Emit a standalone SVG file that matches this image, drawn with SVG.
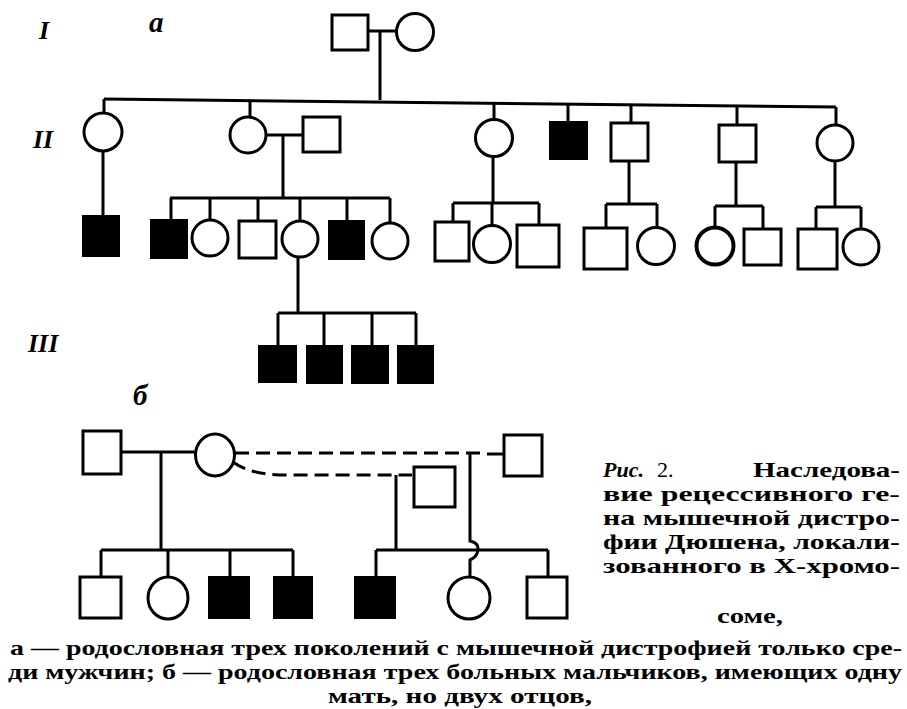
<svg xmlns="http://www.w3.org/2000/svg" width="907" height="709" viewBox="0 0 907 709">
<style>
.ln{stroke:#000;stroke-width:3;fill:none}
.dl{stroke:#000;stroke-width:3;fill:none;stroke-dasharray:14 7}
.s{fill:#fff;stroke:#000;stroke-width:3}
.a{fill:#000;stroke:#000;stroke-width:2}
.lab{font-family:"Liberation Serif",serif;font-style:italic;font-weight:bold;font-size:26px}
.t{font-family:"Liberation Serif",serif;font-weight:bold;font-size:21px}
.it{font-family:"Liberation Serif",serif;font-style:italic;font-weight:bold;font-size:22px}
.big{font-family:"Liberation Serif",serif;font-style:italic;font-weight:bold;font-size:29px}
.rg{font-family:"Liberation Serif",serif;font-size:22px}
</style>
<rect width="907" height="709" fill="#fff"/>
<g id="labels">
<text class="lab" x="39" y="39">I</text>
<text class="big" x="149" y="32">а</text>
<text class="lab" x="33" y="148">II</text>
<text class="lab" x="28" y="352">III</text>
<text class="big" x="133" y="405">б</text>
</g>
<g id="connectors">
<path class="ln" d="M368 31H396M380 31V100"/>
<path class="ln" d="M104 99L836 107"/>
<path class="ln" d="M104 99V113M250 100V117M494 104V120M568 105V122M631 105V123M737 106V125M836 107V125"/>
<path class="ln" d="M103 151V216"/>
<path class="ln" d="M266 135H303M283 135V198M170 198H390M171 198V220M210 198V220M258 198V221M300 198V221M347 198V221M390 198V223"/>
<path class="ln" d="M298 257V313M278 313H416M278 313V346M324 313V346M372 313V346M416 313V346"/>
<path class="ln" d="M493 157V203M453 203H539M453 203V222M492 203V226M539 203V225"/>
<path class="ln" d="M629 161V204M606 204H657M606 204V228M657 204V228"/>
<path class="ln" d="M736 162V206M715 206H763M715 206V228M763 206V229"/>
<path class="ln" d="M835 161V207M816 207H861M816 207V229M861 207V229"/>
<path class="ln" d="M121 452H196M161 452V550M101 550H293M101 550V577M168 550V577M230 550V577M293 550V577"/>
<path class="dl" d="M235 453H487"/>
<path class="ln" d="M487 454H504"/>
<path class="dl" d="M233 462Q250 475 286 475H412"/>
<path class="ln" d="M396 475V550M376 550H548M376 550V577M548 550V577"/>
<path class="ln" d="M470 454V541Q479 543 478 550Q477 557 470 560V577"/>
</g>
<g id="I-1"><rect class="s" x="332" y="15" width="36" height="35"/></g>
<g id="I-2"><circle class="s" cx="415" cy="32" r="18.5"/></g>
<g id="II-1"><circle class="s" cx="103" cy="132" r="19"/></g>
<g id="II-2"><circle class="s" cx="248" cy="135" r="18"/></g>
<g id="II-2s"><rect class="s" x="303" y="117" width="37" height="35"/></g>
<g id="II-3"><circle class="s" cx="494" cy="138" r="18.5"/></g>
<g id="II-4"><rect class="a" x="550" y="122" width="37" height="37"/></g>
<g id="II-5"><rect class="s" x="611" y="123" width="37" height="38"/></g>
<g id="II-6"><rect class="s" x="719" y="125" width="37" height="37"/></g>
<g id="II-7"><circle class="s" cx="835" cy="143" r="18"/></g>
<g id="c1-1"><rect class="a" x="83" y="216" width="36" height="40"/></g>
<g id="c2-1"><rect class="a" x="151" y="220" width="36" height="38"/></g>
<g id="c2-2"><circle class="s" cx="210" cy="238" r="18"/></g>
<g id="c2-3"><rect class="s" x="239" y="221" width="37" height="37"/></g>
<g id="c2-4"><circle class="s" cx="300" cy="239" r="18"/></g>
<g id="c2-5"><rect class="a" x="329" y="221" width="35" height="38"/></g>
<g id="c2-6"><circle class="s" cx="390" cy="241" r="18"/></g>
<g id="III-1"><rect class="a" x="259" y="346" width="37" height="36"/></g>
<g id="III-2"><rect class="a" x="307" y="346" width="35" height="37"/></g>
<g id="III-3"><rect class="a" x="352" y="346" width="36" height="37"/></g>
<g id="III-4"><rect class="a" x="398" y="346" width="35" height="37"/></g>
<g id="c3-1"><rect class="s" x="435" y="222" width="34" height="39"/></g>
<g id="c3-2"><circle class="s" cx="492" cy="244" r="18.5"/></g>
<g id="c3-3"><rect class="s" x="517" y="225" width="42" height="42"/></g>
<g id="c5-1"><rect class="s" x="584" y="228" width="43" height="41"/></g>
<g id="c5-2"><circle class="s" cx="656" cy="246" r="18.5"/></g>
<g id="c6-1"><circle class="s" cx="715" cy="246" r="18.5" style="stroke-width:4"/></g>
<g id="c6-2"><rect class="s" x="744" y="229" width="37" height="36"/></g>
<g id="c7-1"><rect class="s" x="798" y="229" width="39" height="40"/></g>
<g id="c7-2"><circle class="s" cx="861" cy="247" r="18"/></g>
<g id="b-father1"><rect class="s" x="83" y="431" width="38" height="43"/></g>
<g id="b-mother"><ellipse class="s" cx="215" cy="455" rx="19.5" ry="21"/></g>
<g id="b-father2"><rect class="s" x="414" y="467" width="41" height="40"/></g>
<g id="b-father3"><rect class="s" x="504" y="435" width="38" height="41"/></g>
<g id="b-c1"><rect class="s" x="80" y="577" width="41" height="41"/></g>
<g id="b-c2"><ellipse class="s" cx="168" cy="598" rx="20" ry="21"/></g>
<g id="b-c3"><rect class="a" x="209" y="577" width="40" height="41"/></g>
<g id="b-c4"><rect class="a" x="274" y="577" width="38" height="41"/></g>
<g id="b-c5"><rect class="a" x="355" y="577" width="40" height="41"/></g>
<g id="b-c6"><ellipse class="s" cx="469" cy="598" rx="21" ry="21"/></g>
<g id="b-c7"><rect class="s" x="527" y="577" width="40" height="41"/></g>
<g id="caption">
<text class="it" x="603" y="477">Рис.</text>
<text class="rg" x="657" y="477">2.</text>
<text class="t" x="753" y="477" textLength="147" lengthAdjust="spacingAndGlyphs">Наследова-</text>
<text class="t" x="603" y="501" textLength="297" lengthAdjust="spacingAndGlyphs">вие рецессивного ге-</text>
<text class="t" x="603" y="525" textLength="297" lengthAdjust="spacingAndGlyphs">на мышечной дистро-</text>
<text class="t" x="603" y="549" textLength="297" lengthAdjust="spacingAndGlyphs">фии Дюшена, локали-</text>
<text class="t" x="603" y="573" textLength="297" lengthAdjust="spacingAndGlyphs">зованного в Х-хромо-</text>
<text class="t" x="717" y="623" textLength="66" lengthAdjust="spacingAndGlyphs">соме,</text>
<text class="t" x="10" y="655" textLength="892" lengthAdjust="spacingAndGlyphs">а — родословная трех поколений с мышечной дистрофией только сре-</text>
<text class="t" x="8" y="679" textLength="894" lengthAdjust="spacingAndGlyphs">ди мужчин; б — родословная трех больных мальчиков, имеющих одну</text>
<text class="t" x="328" y="703" textLength="264" lengthAdjust="spacingAndGlyphs">мать, но двух отцов,</text>
</g>
</svg>
